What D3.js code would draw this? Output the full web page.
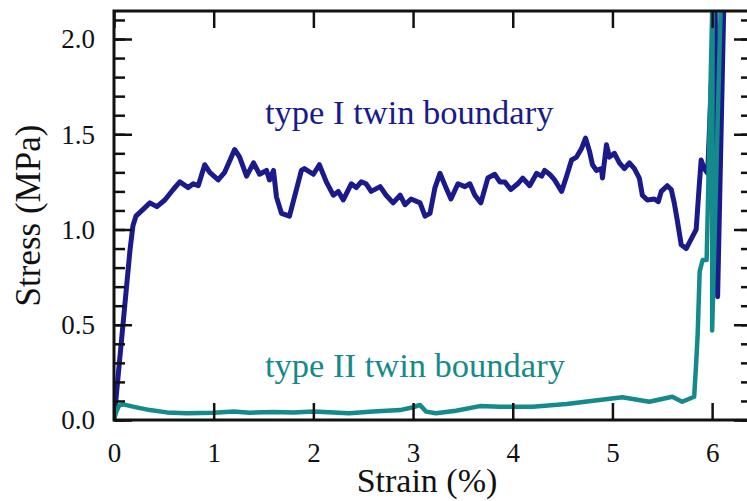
<!DOCTYPE html>
<html>
<head>
<meta charset="utf-8">
<script src="https://cdn.jsdelivr.net/npm/d3@7"></script>
<style>
  html, body { margin: 0; padding: 0; background: #fff; }
  svg { display: block; }
</style>
</head>
<body>
<svg id="chart" width="747" height="501" font-family="Liberation Serif, DejaVu Serif, serif"></svg>
<script>
// Stress–strain curves for two twin-boundary types
const strainI = [0.0, 0.16, 0.19, 0.22, 0.26, 0.36, 0.43, 0.51, 0.594, 0.66, 0.745, 0.795, 0.845, 0.91, 0.96,
  1.045, 1.11, 1.16, 1.21, 1.26, 1.33, 1.40, 1.46, 1.53, 1.56, 1.60, 1.63, 1.68, 1.76, 1.81, 1.88, 1.91,
  2.0, 2.06, 2.13, 2.20, 2.25, 2.30, 2.38, 2.43, 2.48, 2.53, 2.58, 2.67, 2.73, 2.80, 2.87, 2.92, 2.98,
  3.07, 3.12, 3.17, 3.22, 3.27, 3.33, 3.38, 3.45, 3.52, 3.57, 3.62, 3.68, 3.75, 3.82, 3.87, 3.92, 3.98,
  4.05, 4.10, 4.17, 4.24, 4.29, 4.32, 4.37, 4.42, 4.49, 4.54, 4.59, 4.64, 4.69, 4.73, 4.77, 4.80, 4.84,
  4.89, 4.90, 4.94, 4.97, 5.02, 5.07, 5.12, 5.17, 5.22, 5.27, 5.30, 5.35, 5.42, 5.46, 5.49, 5.55, 5.59,
  5.62, 5.65, 5.69, 5.74, 5.80, 5.84, 5.87, 5.89, 5.92, 5.955, 6.03, 6.055, 6.12];
const stressI = [0.0, 0.89, 1.02, 1.07, 1.09, 1.14, 1.12, 1.155, 1.21, 1.25, 1.22, 1.24, 1.23, 1.34, 1.30,
  1.26, 1.30, 1.36, 1.42, 1.38, 1.28, 1.35, 1.29, 1.31, 1.26, 1.31, 1.17, 1.085, 1.07, 1.17, 1.31, 1.32,
  1.29, 1.34, 1.25, 1.18, 1.20, 1.155, 1.24, 1.22, 1.25, 1.24, 1.20, 1.225, 1.18, 1.14, 1.18, 1.13, 1.16,
  1.14, 1.07, 1.085, 1.22, 1.295, 1.22, 1.16, 1.24, 1.225, 1.24, 1.18, 1.14, 1.27, 1.29, 1.25, 1.25, 1.21,
  1.24, 1.27, 1.23, 1.295, 1.28, 1.31, 1.29, 1.26, 1.20, 1.28, 1.365, 1.38, 1.425, 1.48, 1.41, 1.34, 1.31,
  1.32, 1.27, 1.445, 1.38, 1.40, 1.35, 1.32, 1.35, 1.32, 1.27, 1.18, 1.155, 1.16, 1.146, 1.20, 1.23, 1.21,
  1.14, 1.05, 0.92, 0.90, 0.96, 1.0, 1.225, 1.365, 1.32, 1.295, 2.25, 0.647, 2.25];

const strainII = [0.0, 0.02, 0.05, 0.093, 0.19, 0.36, 0.53, 0.73, 1.0, 1.2, 1.36, 1.6, 1.8, 2.0, 2.36, 2.6,
  2.87, 3.0, 3.07, 3.13, 3.23, 3.43, 3.67, 3.87, 4.0, 4.2, 4.54, 4.87, 5.1, 5.37, 5.6, 5.70, 5.82, 5.84,
  5.855, 5.875, 5.905, 5.945, 6.005, 6.0, 6.09];
const stressII = [0.0, 0.04, 0.075, 0.082, 0.07, 0.052, 0.04, 0.035, 0.038, 0.044, 0.038, 0.042, 0.04, 0.044,
  0.035, 0.045, 0.052, 0.067, 0.079, 0.044, 0.035, 0.049, 0.073, 0.07, 0.07, 0.07, 0.084, 0.105, 0.119,
  0.096, 0.122, 0.096, 0.122, 0.30, 0.45, 0.78, 0.84, 0.84, 2.25, 0.47, 2.25];

const xTicks = [0, 1, 2, 3, 4, 5, 6];
const yMajorTicks = [0.0, 0.5, 1.0, 1.5, 2.0];
const yMinorTicks = d3.range(0, 22).map(i => i / 10);

const seriesNames = ["type I twin boundary", "type II twin boundary"];
const seriesColors = ["#1a1a8c", "#158a8a"];

const serif = "'Liberation Serif', 'DejaVu Serif', serif";
const svg = d3.select("#chart");
const plotLeft = 114, plotRight = 752, plotTop = 11, plotBottom = 420;

const x = d3.scaleLinear().domain([0, 6.4]).range([plotLeft, plotRight]);
const y = d3.scaleLinear().domain([0, 2.147]).range([plotBottom, plotTop]);

svg.append("defs").append("clipPath").attr("id", "plot-clip")
  .append("rect").attr("x", plotLeft).attr("y", plotTop)
  .attr("width", plotRight - plotLeft).attr("height", plotBottom - plotTop);

// curves
const line = d3.line().x(d => x(d[0])).y(d => y(d[1]));
const dataI = strainI.map((s, i) => [s, stressI[i]]);
const dataII = strainII.map((s, i) => [s, stressII[i]]);

const g = svg.append("g").attr("clip-path", "url(#plot-clip)");
g.append("path").datum(dataI).attr("d", line)
  .attr("fill", "none").attr("stroke", seriesColors[0]).attr("stroke-width", 5)
  .attr("stroke-linejoin", "round").attr("stroke-linecap", "round");
g.append("path").datum(dataII).attr("d", line)
  .attr("fill", "none").attr("stroke", seriesColors[1]).attr("stroke-width", 4.5)
  .attr("stroke-linejoin", "round").attr("stroke-linecap", "round");

// axes
function styleAxis(sel, width) {
  sel.attr("font-family", null).attr("font-size", null);
  sel.select(".domain").remove();
  sel.selectAll(".tick line").attr("stroke", "#111").attr("stroke-width", width);
  sel.selectAll(".tick text").attr("fill", "#111").attr("font-size", 27);
}

// left: minor then major (labelled)
svg.append("g").attr("transform", `translate(${plotLeft},0)`)
  .call(d3.axisLeft(y).tickValues(yMinorTicks).tickSize(-11).tickFormat(""))
  .call(s => styleAxis(s, 2.5));
svg.append("g").attr("transform", `translate(${plotLeft},0)`)
  .call(d3.axisLeft(y).tickValues(yMajorTicks).tickSize(-18).tickPadding(19).tickFormat(d3.format(".1f")))
  .call(s => styleAxis(s, 2.5))
  .call(s => s.selectAll(".tick text").attr("dy", "0.33em"));

// right: ticks only
svg.append("g").attr("transform", `translate(${plotRight},0)`)
  .call(d3.axisLeft(y).tickValues(yMinorTicks).tickSize(11).tickFormat(""))
  .call(s => styleAxis(s, 2.5));
svg.append("g").attr("transform", `translate(${plotRight},0)`)
  .call(d3.axisLeft(y).tickValues(yMajorTicks).tickSize(18).tickFormat(""))
  .call(s => styleAxis(s, 2.5));

// bottom (labelled) and top
svg.append("g").attr("transform", `translate(0,${plotBottom})`)
  .call(d3.axisBottom(x).tickValues(xTicks).tickSize(-17).tickPadding(23).tickFormat(d3.format("d")))
  .call(s => styleAxis(s, 2.5));
svg.append("g").attr("transform", `translate(0,${plotTop})`)
  .call(d3.axisTop(x).tickValues(xTicks).tickSize(-17).tickFormat(""))
  .call(s => styleAxis(s, 2.5));

// frame
svg.append("rect").attr("x", plotLeft).attr("y", plotTop)
  .attr("width", plotRight - plotLeft).attr("height", plotBottom - plotTop)
  .attr("fill", "none").attr("stroke", "#111").attr("stroke-width", 3);

// axis titles
svg.append("text").attr("x", 427).attr("y", 492)
  .attr("text-anchor", "middle").attr("font-size", 34).attr("fill", "#111")
  .text("Strain (%)");
svg.append("text").attr("transform", `translate(40,${(plotTop + plotBottom) / 2}) rotate(-90)`)
  .attr("text-anchor", "middle").attr("font-size", 35).attr("fill", "#111")
  .text("Stress (MPa)");

// series labels
svg.append("text").attr("x", 265).attr("y", 124).attr("font-size", 34.5)
  .attr("fill", seriesColors[0]).text(seriesNames[0]);
svg.append("text").attr("x", 265).attr("y", 377).attr("font-size", 34.5)
  .attr("fill", seriesColors[1]).text(seriesNames[1]);

// one serif face for every label
svg.selectAll("text").attr("font-family", serif).style("font-family", serif);
</script>
</body>
</html>
